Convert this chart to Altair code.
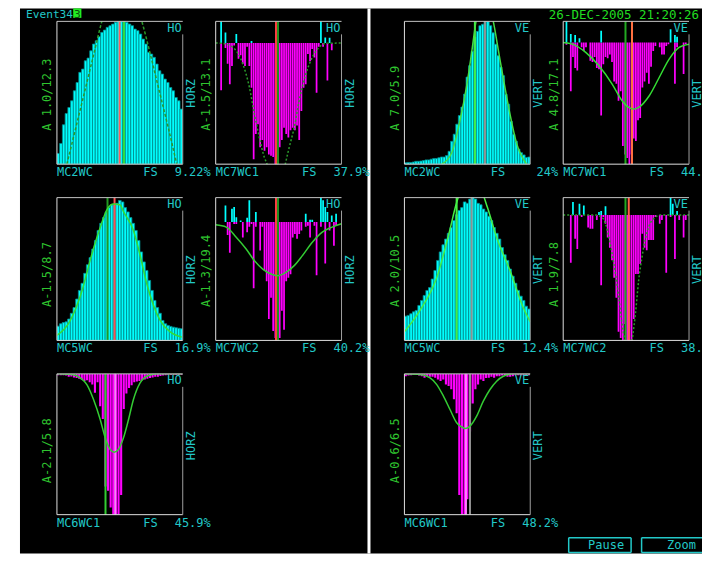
import altair as alt
import pandas as pd

# ---------------- values ----------------
# cyan histograms (height as fraction of the panel)
A_BARS = [0.075, 0.145, 0.276, 0.355, 0.397, 0.444, 0.514, 0.572, 0.643, 0.666, 0.724, 0.743,
          0.794, 0.841, 0.864, 0.893, 0.923, 0.939, 0.958, 0.97, 0.981, 0.993, 1.0, 1.0, 1.0,
          0.993, 0.981, 0.97, 0.946, 0.935, 0.911, 0.876, 0.841, 0.783, 0.771, 0.748, 0.701,
          0.654, 0.631, 0.596, 0.572, 0.537, 0.514, 0.467, 0.444, 0.386]
A_FIT_X = [0.079, 0.15, 0.22, 0.29, 0.357, 0.43, 0.516, 0.60, 0.675, 0.745, 0.815, 0.885, 0.952]
A_FIT_Y = [0.0, 0.255, 0.507, 0.76, 1.0, 1.2, 1.3, 1.2, 1.0, 0.76, 0.507, 0.255, 0.0]
A_VL = [0.498, 0.532]
A_VL_COL = ["#ff6060", "#33dd33"]

C_BARS = [0.01, 0.012, 0.012, 0.015, 0.02, 0.02, 0.022, 0.025, 0.03, 0.03, 0.035, 0.04, 0.04,
          0.045, 0.05, 0.05, 0.06, 0.09, 0.16, 0.21, 0.28, 0.34, 0.40, 0.49, 0.61, 0.69, 0.79,
          0.89, 0.93, 0.97, 0.98, 1.0, 1.0, 0.97, 0.92, 0.84, 0.76, 0.68, 0.62, 0.49, 0.42,
          0.30, 0.21, 0.16, 0.105, 0.08, 0.065, 0.047, 0.05]
C_FIT_X = [0.296, 0.376, 0.44, 0.495, 0.534, 0.569, 0.614, 0.66, 0.706, 0.746, 0.786, 0.839, 0.89, 0.971]
C_FIT_Y = [0.0, 0.08, 0.3, 0.55, 0.78, 1.0, 1.12, 1.12, 1.0, 0.8, 0.6, 0.35, 0.15, 0.0]
C_VL = [0.56, 0.64]
C_VL_COL = ["#44ee44", "#909090"]

E_BARS = [0.10, 0.117, 0.125, 0.13, 0.15, 0.19, 0.23, 0.29, 0.35, 0.40, 0.47, 0.53, 0.58, 0.64,
          0.70, 0.77, 0.82, 0.86, 0.90, 0.93, 0.95, 0.95, 0.96, 0.98, 0.97, 0.93, 0.90, 0.86,
          0.82, 0.77, 0.70, 0.62, 0.55, 0.49, 0.42, 0.35, 0.28, 0.23, 0.19, 0.14, 0.117, 0.105,
          0.098, 0.093, 0.089, 0.085, 0.082]
E_FIT_X = [0.0, 0.1, 0.2, 0.27, 0.344, 0.4, 0.45, 0.5, 0.53, 0.608, 0.66, 0.714, 0.82, 0.9, 0.992]
E_FIT_Y = [0.035, 0.13, 0.35, 0.58, 0.79, 0.92, 0.955, 0.95, 0.9, 0.77, 0.6, 0.397, 0.14, 0.06, 0.023]
E_VL = [0.402, 0.458]
E_VL_COL = ["#229922", "#ff5050"]

G_BARS = [0.17, 0.175, 0.187, 0.20, 0.21, 0.245, 0.28, 0.315, 0.35, 0.37, 0.43, 0.49, 0.56, 0.62,
          0.67, 0.71, 0.75, 0.79, 0.84, 0.88, 0.91, 0.93, 0.97, 0.96, 0.99, 1.0, 0.99, 0.96, 0.95,
          0.92, 0.90, 0.87, 0.84, 0.79, 0.75, 0.71, 0.65, 0.60, 0.56, 0.50, 0.45, 0.40, 0.35,
          0.31, 0.28, 0.24, 0.22]
G_FIT_X = [0.0, 0.124, 0.257, 0.36, 0.41, 0.45, 0.53, 0.61, 0.66, 0.733, 0.839, 0.944, 1.0]
G_FIT_Y = [0.06, 0.21, 0.44, 0.77, 0.95, 1.05, 1.1, 1.05, 0.93, 0.72, 0.49, 0.23, 0.13]
G_VL = [0.415, 0.534]
G_VL_COL = ["#44ee44", "#909090"]

# magenta (downward) histograms: depth as fraction of baseline-to-bottom
B_MAG = [0, 0, 0.39, 0, 0.04, 0.17, 0.34, 0.19, 0.02, 0, 0.13, 0.10, 0.17, 0.19, 0.03, 0.19, 0.37,
         0.96, 0.75, 0.67, 0.86, 0.80, 0.89, 0.86, 0.92, 0.93, 0.94, 1.0, 1.0, 0.86, 0.80, 0.70,
         0.75, 0.78, 0.72, 0.70, 0.72, 0.68, 0.80, 0.56, 0.37, 0.34, 0.09, 0.15, 0.05, 0.12, 0.41,
         0.03, 0, 0.03, 0, 0.31, 0, 0.06, 0, 0, 0, 0]
B_CY_BIN = [2, 4, 9, 16, 48, 50, 52]
B_CY_VAL = [1.0, 0.49, 0.42, 0.1, 1.0, 0.26, 0.25]
B_FIT_X = [0.0, 0.058, 0.137, 0.216, 0.268, 0.308, 0.347, 0.387, 0.408, 0.48, 0.553, 0.584, 0.624,
           0.663, 0.716, 0.768, 0.821, 0.874, 1.0]
B_FIT_Y = [0, 0.003, 0.036, 0.174, 0.366, 0.587, 0.78, 0.945, 1.0, 1.35, 1.0, 0.862, 0.697, 0.477,
           0.256, 0.118, 0.036, 0.003, 0]
B_VL = [0.479, 0.495]
B_VL_COL = ["#ff4040", "#1f8f1f"]

D_MAG = [0, 0.02, 0, 0.40, 0.12, 0.21, 0.23, 0, 0.04, 0.07, 0.04, 0, 0.15, 0.16, 0.12, 0.21, 0.22,
         0.60, 0.18, 0.12, 0.13, 0.10, 0.16, 0.32, 0.34, 0.48, 0.40, 0.85, 0.92, 0.95, 1.0, 0.92,
         0.79, 0.81, 0.64, 0.62, 0.37, 0.32, 0.25, 0.34, 0.2, 0.07, 0.03, 0, 0.04, 0.1, 0.1, 0.03,
         0.015, 0, 0, 0.34, 0.04, 0, 0, 0.26, 0.015, 0]
D_CY_BIN = [1, 3, 5, 7, 17, 49, 51, 52]
D_CY_VAL = [1.0, 0.4, 0.35, 0.2, 0.55, 0.63, 0.35, 0.27]
D_FIT_X = [0.0, 0.074, 0.179, 0.284, 0.389, 0.468, 0.521, 0.561, 0.6, 0.684, 0.763, 0.842, 0.921, 1.0]
D_FIT_Y = [0, 0.014, 0.082, 0.192, 0.342, 0.479, 0.534, 0.548, 0.534, 0.438, 0.288, 0.137, 0.041, 0.014]
D_VL = [0.495, 0.547]
D_VL_COL = ["#22aa22", "#ff7040"]

F_MAG = [0, 0, 0, 0, 0, 0.11, 0.26, 0, 0.015, 0.015, 0, 0, 0.13, 0, 0.085, 0.04, 0.015, 0.56, 0.04,
         0, 0.24, 0.04, 0.41, 0.50, 0.82, 0.64, 0.92, 0.98, 1.0, 0.98, 0.75, 0.91, 0.50, 0.47, 0.44,
         0.13, 0.10, 0.14, 0.10, 0.07, 0, 0.04, 0.03, 0.13, 0, 0.03, 0.45, 0, 0.04, 0, 0.35, 0, 0.07,
         0, 0.2, 0.03, 0, 0]
F_CY_BIN = [4, 7, 8, 9, 11, 14, 15, 18, 41, 43, 44, 48, 49, 50, 51, 53, 55]
F_CY_VAL = [0.68, 0.55, 0.62, 0.2, 0.07, 0.18, 0.89, 0.41, 0.34, 0.1, 0.1, 1.0, 0.89, 0.62, 0.41, 0.27, 0.34]
F_FIT_X = [0.0, 0.084, 0.163, 0.242, 0.308, 0.374, 0.439, 0.492, 0.558, 0.624, 0.689, 0.768, 0.847, 0.926, 1.0]
F_FIT_Y = [0.023, 0.042, 0.127, 0.227, 0.326, 0.397, 0.439, 0.453, 0.425, 0.368, 0.283, 0.170, 0.085, 0.042, 0.014]
F_VL = [0.479, 0.495]
F_VL_COL = ["#ff4040", "#1f8f1f"]

H_MAG = [0, 0, 0, 0.38, 0, 0.19, 0.27, 0, 0.016, 0, 0, 0.1, 0.11, 0.11, 0, 0.04, 0, 0.56, 0.016,
         0.07, 0.18, 0.26, 0.36, 0.50, 0.66, 0.93, 0.98, 1.0, 0.87, 1.0, 1.0, 1.0, 0.83, 0.47, 0.47,
         0.39, 0.15, 0.26, 0.28, 0.2, 0.2, 0.2, 0.016, 0, 0.07, 0.04, 0, 0.46, 0, 0.016, 0, 0.35, 0,
         0.04, 0, 0.18, 0.04, 0]
H_CY_BIN = [4, 7, 9, 16, 17, 19, 49, 50, 52]
H_CY_VAL = [0.75, 0.65, 0.55, 0.17, 0.23, 0.5, 1.0, 0.65, 0.23]
H_FIT_X = [0.0, 0.258, 0.311, 0.337, 0.363, 0.389, 0.416, 0.442, 0.468, 0.489, 0.52, 0.547, 0.574,
           0.6, 0.626, 0.653, 0.679, 0.718, 0.771, 1.0]
H_FIT_Y = [0, 0, 0.021, 0.07, 0.176, 0.31, 0.47, 0.658, 0.872, 1.0, 1.12, 1.0, 0.786, 0.52, 0.337,
           0.19, 0.096, 0.029, 0, 0]
H_VL = [0.495, 0.521]
H_VL_COL = ["#22aa22", "#ff6040"]

I_MAG = [0.01, 0.01, 0.01, 0.012, 0.02, 0.018, 0.025, 0.03, 0.035, 0.04, 0.05, 0.045, 0.06, 0.075,
         0.135, 0.06, 0.23, 0.32, 0.80, 0.83, 0.95, 1.0, 1.0, 1.0, 0.86, 0.25, 0.14, 0.1, 0.08, 0.06,
         0.055, 0.05, 0.045, 0.04, 0.035, 0.03, 0.025, 0.02, 0.02, 0.015, 0.012, 0.01, 0.008, 0.008,
         0.008, 0.008, 0.008, 0.008]
I_FIT_X = [0.0, 0.119, 0.185, 0.238, 0.291, 0.344, 0.384, 0.423, 0.455, 0.489, 0.529, 0.569, 0.608,
           0.661, 0.728, 0.794, 1.0]
I_FIT_Y = [0, 0.005, 0.028, 0.076, 0.182, 0.324, 0.454, 0.537, 0.556, 0.537, 0.454, 0.324, 0.182,
           0.064, 0.012, 0, 0]
I_VL = [0.386, 0.463]
I_VL_COL = ["#33cc33", "#ff80ff"]

J_MAG = [0.017, 0.012, 0.01, 0.005, 0.005, 0.012, 0.017, 0.028, 0.017, 0.02, 0.02, 0.028, 0.04,
         0.05, 0.04, 0.075, 0.087, 0.11, 0.18, 0.28, 0.86, 1.0, 1.0, 0.89, 0.41, 0.21, 0.11, 0.075,
         0.04, 0.05, 0.03, 0.028, 0.02, 0.028, 0.017, 0.017, 0.012, 0.012, 0.02, 0.02, 0.017, 0.01,
         0.01, 0.01, 0.01, 0.01, 0.01]
J_FIT_X = [0.0, 0.124, 0.204, 0.257, 0.31, 0.362, 0.415, 0.468, 0.481, 0.521, 0.574, 0.627, 0.68,
           0.733, 0.786, 0.865, 1.0]
J_FIT_Y = [0, 0.005, 0.028, 0.076, 0.158, 0.253, 0.347, 0.383, 0.388, 0.371, 0.3, 0.194, 0.111,
           0.052, 0.017, 0, 0]
J_VL = [0.489, 0.521]
J_VL_COL = ["#ff80ff", "#909090"]

# texts
LEFT_LBL = ["A 1.0/12.3", "A-1.5/13.1", "A 7.0/5.9", "A 4.8/17.1",
            "A-1.5/8.7", "A-1.3/19.4", "A 2.0/10.5", "A 1.9/7.8",
            "A-2.1/5.8", "A-0.6/6.5"]
SIDE_LBL = ["HORZ", "HORZ", "VERT", "VERT", "HORZ", "HORZ", "VERT", "VERT", "HORZ", "VERT"]
CORNER_LBL = ["HO", "HO", "VE", "VE", "HO", "HO", "VE", "VE", "HO", "VE"]
NAME_LBL = ["MC2WC", "MC7WC1", "MC2WC", "MC7WC1", "MC5WC", "MC7WC2", "MC5WC", "MC7WC2",
            "MC6WC1", "MC6WC1"]
PCT_LBL = ["9.22%", "37.9%", "24%", "44.", "16.9%", "40.2%", "12.4%", "38.", "45.9%", "48.2%"]
EVENT_TXT = "Event34"
EVENT_BOX = "3"
DATE_TXT = "26-DEC-2005 21:20:26"
BUTTONS = ["Pause", "Zoom"]

# ---------------- styling ----------------
FONT = "DejaVu Sans Mono"
CY_TXT = "#22c8c8"
GR_TXT = "#2fc42f"
PW = 126
ONE = pd.DataFrame({"k": [0]})


def txt(s, x, y, color, size=12, align="left", baseline="top", angle=0):
    return alt.Chart(ONE).mark_text(align=align, baseline=baseline, angle=angle, font=FONT,
                                    fontSize=size, color=color).encode(
        x=alt.value(x), y=alt.value(y), text=alt.value(s))


def hrule(x1, x2, y, color, w=1.0):
    return alt.Chart(ONE).mark_rule(color=color, strokeWidth=w).encode(
        x=alt.value(x1), x2=alt.value(x2), y=alt.value(y))


def vrule(x, y1, y2, color, w=1.0):
    return alt.Chart(ONE).mark_rule(color=color, strokeWidth=w).encode(
        x=alt.value(x), y=alt.value(y1), y2=alt.value(y2))


def box(x1, x2, y1, y2, color):
    return alt.Chart(ONE).mark_rect(color=color).encode(
        x=alt.value(x1), x2=alt.value(x2), y=alt.value(y1), y2=alt.value(y2))


def panel(idx, bars, fit_x, fit_y, vl, vl_col, h, cell_w, kind="cyan", up=0.0,
          cy_bin=(), cy_val=(), fit_color="#33dd33", fit_dash=None, pct_x=154,
          pct_align="right", pre=(), post=()):
    n = len(bars)
    xs = alt.Scale(domain=[0, n], range=[0, PW], nice=False, zero=False)
    ys = alt.Scale(domain=[0, 1] if kind == "cyan" else [-1, up], nice=False, zero=False)

    def X(f):
        return alt.X(f, scale=xs, axis=None)

    def Y(f):
        return alt.Y(f, scale=ys, axis=None)

    layers = list(pre)
    if kind == "cyan":
        d = pd.DataFrame({"a": [float(i) for i in range(n)],
                          "b": [i + 1.0 for i in range(n)], "v": bars})
        d["z"] = 0.0
        layers.append(alt.Chart(d).mark_rect(color="#00ffff", stroke="#008b8b", strokeWidth=0.8,
                                             clip=True).encode(
            x=X("a:Q"), x2="b:Q", y=Y("v:Q"), y2="z:Q"))
    else:
        d = pd.DataFrame({"a": [i + 0.1 for i in range(n)], "b": [i + 0.9 for i in range(n)],
                          "v": [-v for v in bars]})
        d["z"] = 0.0
        d = d[d["v"] < 0]
        layers.append(alt.Chart(d).mark_rect(color="#ff00ff", clip=True).encode(
            x=X("a:Q"), x2="b:Q", y=Y("v:Q"), y2="z:Q"))
        if len(cy_bin):
            c = pd.DataFrame({"a": [i + 0.1 for i in cy_bin], "b": [i + 0.9 for i in cy_bin],
                              "v": [v * up for v in cy_val]})
            c["z"] = 0.0
            layers.append(alt.Chart(c).mark_rect(color="#00ffff", clip=True).encode(
                x=X("a:Q"), x2="b:Q", y=Y("v:Q"), y2="z:Q"))
    # marker lines
    vd = pd.DataFrame({"p": [p * n for p in vl], "c": vl_col})
    layers.append(alt.Chart(vd).mark_rule(strokeWidth=2).encode(
        x=X("p:Q"), y=alt.value(0), y2=alt.value(h), color=alt.Color("c:N", scale=None)))
    # fit curve
    sign = 1 if kind == "cyan" else -1
    fd = pd.DataFrame({"x": [v * n for v in fit_x], "y": [sign * v for v in fit_y]})
    lkw = dict(color=fit_color, strokeWidth=1.5, clip=True, interpolate="monotone")
    if fit_dash:
        lkw["strokeDash"] = fit_dash
    layers.append(alt.Chart(fd).mark_line(**lkw).encode(x=X("x:Q"), y=Y("y:Q")))
    # frame
    layers += [hrule(0, PW, 0, "#c4c4c4"), vrule(0, 0, h, "#e0e0e0"),
               hrule(0, PW, h, "#e0e0e0"), vrule(PW, 13, h, "#a0a0a0")]
    # texts
    layers += [
        txt(CORNER_LBL[idx], PW - 1, 1.5, CY_TXT, align="right"),
        txt(LEFT_LBL[idx], -9.5, 109.5, GR_TXT, angle=270, baseline="middle"),
        txt(SIDE_LBL[idx], PW + 8, 86.5, CY_TXT, angle=270, baseline="middle"),
        txt(NAME_LBL[idx], 0, h + 3, CY_TXT),
        txt("FS", 86.5, h + 3, CY_TXT),
        txt(PCT_LBL[idx], pct_x, h + 3, CY_TXT, align=pct_align),
    ]
    layers += list(post)
    return alt.layer(*layers).properties(width=cell_w, height=h)


RH = [143, 143, 141]
CW = [126, 155.5, 126, 126]

# background pieces in the first cell (cell origin = chart (49, 13)); whole chart is 695 x 546
bg = [
    box(-49, 646, -13, 533, "white"),
    box(-37, 646, -13, 533, "black"),
    box(311, 314, -13, 533, "white"),
]
header = [
    txt(EVENT_TXT, -31, -12, CY_TXT, size=11.2),
    box(16.3, 24.5, -13, -3.5, "#22ee22"),
    txt(EVENT_BOX, 17, -12, "#0b4f0b", size=11.2),
    txt(DATE_TXT, 643, -12.5, "#22dd22", size=12.5, align="right"),
]

pA = panel(0, A_BARS, A_FIT_X, A_FIT_Y, A_VL, A_VL_COL, RH[0], CW[0],
           fit_color="#2a9a2a", fit_dash=[3, 2], pre=bg, post=header)
pB = panel(1, B_MAG, B_FIT_X, B_FIT_Y, B_VL, B_VL_COL, RH[0], CW[1], kind="mag", up=0.179,
           cy_bin=B_CY_BIN, cy_val=B_CY_VAL, fit_color="#2a9a2a", fit_dash=[2, 2])
pC = panel(2, C_BARS, C_FIT_X, C_FIT_Y, C_VL, C_VL_COL, RH[0], CW[2], fit_color="#44dd44")
pD = panel(3, D_MAG, D_FIT_X, D_FIT_Y, D_VL, D_VL_COL, RH[0], CW[3], kind="mag", up=0.173,
           cy_bin=D_CY_BIN, cy_val=D_CY_VAL, fit_color="#33dd33", pct_x=118, pct_align="left")
pE = panel(4, E_BARS, E_FIT_X, E_FIT_Y, E_VL, E_VL_COL, RH[1], CW[0], fit_color="#33dd33")
pF = panel(5, F_MAG, F_FIT_X, F_FIT_Y, F_VL, F_VL_COL, RH[1], CW[1], kind="mag", up=0.207,
           cy_bin=F_CY_BIN, cy_val=F_CY_VAL, fit_color="#33cc33")
pG = panel(6, G_BARS, G_FIT_X, G_FIT_Y, G_VL, G_VL_COL, RH[1], CW[2], fit_color="#44ee44")
pH = panel(7, H_MAG, H_FIT_X, H_FIT_Y, H_VL, H_VL_COL, RH[1], CW[3], kind="mag", up=0.139,
           cy_bin=H_CY_BIN, cy_val=H_CY_VAL, fit_color="#2a9a2a", fit_dash=[2, 2],
           pct_x=118, pct_align="left")
pI = panel(8, I_MAG, I_FIT_X, I_FIT_Y, I_VL, I_VL_COL, RH[2], CW[0], kind="mag", up=0.0,
           fit_color="#33cc33")
pJ = panel(9, J_MAG, J_FIT_X, J_FIT_Y, J_VL, J_VL_COL, RH[2], CW[2], kind="mag", up=0.0,
           fit_color="#33cc33")

blank1 = alt.layer(txt("", 0, 0, CY_TXT)).properties(width=CW[1], height=RH[2])
BTN = "#22c8c8"
blank2 = alt.layer(
    hrule(5.5, 68, 164, BTN, 1.5), hrule(5.5, 68, 179, BTN, 1.5),
    vrule(5.5, 164, 179, BTN, 1.5), vrule(68, 164, 179, BTN, 1.5),
    hrule(78.5, 139, 164, BTN, 1.5), hrule(78.5, 139, 179, BTN, 1.5),
    vrule(78.5, 164, 179, BTN, 1.5),
    txt(BUTTONS[0], 43, 171.5, CY_TXT, align="center", baseline="middle"),
    txt(BUTTONS[1], 118.5, 171.5, CY_TXT, align="center", baseline="middle"),
).properties(width=CW[3], height=RH[2])

chart = alt.concat(
    pA, pB, pC, pD, pE, pF, pG, pH, pI, blank1, pJ, blank2,
    columns=4, spacing={"row": 33.5, "column": 33}, bounds="flush", align="each",
).properties(padding=0).configure_view(stroke=None)

chart.save("out.html", embed_options={"renderer": "svg", "actions": False})
